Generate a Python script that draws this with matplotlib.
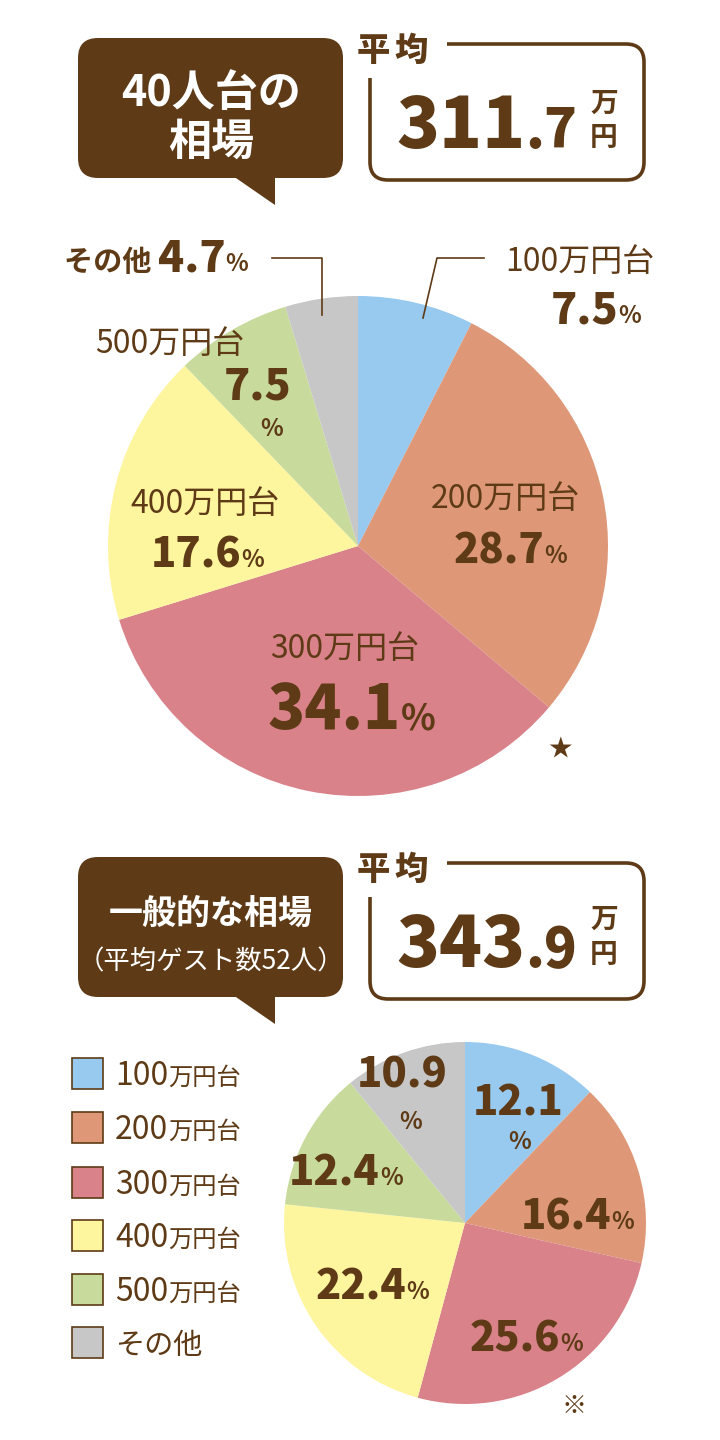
import matplotlib
matplotlib.use("Agg")
import matplotlib.pyplot as plt
from matplotlib.patches import FancyBboxPatch, Polygon, Rectangle

plt.rcParams['font.family'] = ['Noto Sans CJK JP', 'DejaVu Sans']

# ---------------- data ----------------
categories = ["100万円台", "200万円台", "300万円台", "400万円台", "500万円台", "その他"]
top_values = [7.5, 28.7, 34.1, 17.6, 7.5, 4.7]      # 40人台の相場 (%)
bottom_values = [12.1, 16.4, 25.6, 22.4, 12.4, 10.9]  # 一般的な相場 (%)
top_average = "311.7"
bottom_average = "343.9"
top_title = ["40人台の", "相場"]
bottom_title = ["一般的な相場", "（平均ゲスト数52人）"]
colors = ["#98C9EF", "#DE9878", "#D9828A", "#FEF59F", "#C8DB9C", "#C7C7C7"]
BROWN = "#5E3B16"

W, H = 720, 1440
fig = plt.figure(figsize=(W / 100, H / 100), dpi=100)
fig.patch.set_facecolor("white")


def pie_axes(cx, cy, r, values):
    ax = fig.add_axes([(cx - r) / W, 1 - (cy + r) / H, 2 * r / W, 2 * r / H])
    ax.pie(values, colors=colors, startangle=90, counterclock=False, radius=1,
           wedgeprops=dict(linewidth=0))
    ax.set_xlim(-1, 1)
    ax.set_ylim(-1, 1)
    ax.set_aspect("equal")
    ax.axis("off")
    return ax


pie_axes(358, 546, 250, top_values)
pie_axes(465, 1223, 181, bottom_values)

ov = fig.add_axes([0, 0, 1, 1])
ov.set_xlim(0, W)
ov.set_ylim(H, 0)
ov.axis("off")
ov.patch.set_alpha(0)

renderer = fig.canvas.get_renderer()


def run(x, y, pieces, ha="left", color=BROWN):
    """pieces: list of (text, size, weight)"""
    ts = []
    widths = []
    for s, size, weight in pieces:
        t = ov.text(0, y, s, fontsize=size, fontweight=weight, color=color,
                    va="baseline", ha="left")
        bb = t.get_window_extent(renderer)
        ts.append(t)
        widths.append(bb.width)
    total = sum(widths)
    if ha == "center":
        x0 = x - total / 2
    elif ha == "right":
        x0 = x - total
    else:
        x0 = x
    for t, w in zip(ts, widths):
        t.set_x(x0)
        x0 += w
    return ts


def header(y0, title_lines, title_sizes, title_weights, title_base, avg, avg_base, man_bases):
    # speech bubble
    ov.add_patch(FancyBboxPatch((78, y0), 265, 140, boxstyle="round,pad=0,rounding_size=20",
                                fc=BROWN, ec="none"))
    ov.add_patch(Polygon([(233, y0 + 138), (275, y0 + 138), (275, y0 + 167)],
                         closed=True, fc=BROWN, ec="none"))
    for line, s, wgt, b in zip(title_lines, title_sizes, title_weights, title_base):
        run(211, b, [(line, s, wgt)], ha="center", color="white")
    # average box
    ov.add_patch(FancyBboxPatch((370, y0 + 6), 274, 136, boxstyle="round,pad=0,rounding_size=18",
                                fc="none", ec=BROWN, lw=2.6))
    ov.add_patch(Rectangle((352, y0 - 12), 95, 52, fc="white", ec="none"))
    run(357, y0 + 23, [("平", 24, "heavy"), (" ", 12, "normal"), ("均", 24, "heavy")])
    main, dec = avg.split(".")
    run(396, avg_base, [(main, 51, "heavy"), ("." + dec, 39, "heavy")])
    run(604, man_bases[0], [("万", 20, "bold")], ha="center")
    run(604, man_bases[1], [("円", 20, "bold")], ha="center")


header(38, top_title, [31, 31], ["bold", "bold"], [106, 155], top_average, 148, (112, 146))
header(857, bottom_title, [24.5, 19], ["bold", "normal"], [924, 969], bottom_average, 967, (928, 963))

# ---------------- top pie labels ----------------
NUM, PCT = 30, 17
CAT = 23
ov.plot([272, 322, 322], [258, 258, 315], color=BROWN, lw=1.2)
ov.plot([484, 437, 423], [258, 258, 318], color=BROWN, lw=1.2)

run(64, 271, [("その他 ", 21, "bold"), (f"{top_values[5]}", 31, "heavy"), ("%", PCT, "bold")])
run(580, 271, [(categories[0], CAT, "normal")], ha="center")
run(641, 323, [(f"{top_values[0]}", 31, "heavy"), ("%", PCT, "bold")], ha="right")
run(170, 353, [(categories[4], CAT, "normal")], ha="center")
run(258, 399, [(f"{top_values[4]}", 31, "heavy")], ha="center")
run(272, 436, [("%", PCT, "bold")], ha="center")
run(505, 508, [(categories[1], CAT, "normal")], ha="center")
run(510, 563, [(f"{top_values[1]}", NUM, "heavy"), ("%", PCT, "bold")], ha="center")
run(205, 513, [(categories[3], CAT, "normal")], ha="center")
run(207, 567, [(f"{top_values[3]}", NUM, "heavy"), ("%", PCT, "bold")], ha="center")
run(345, 658, [(categories[2], CAT, "normal")], ha="center")
run(352, 729, [(f"{top_values[2]}", 44, "heavy"), ("%", 26, "bold")], ha="center")
run(560, 756, [("★", 17, "normal")], ha="center")

# ---------------- legend ----------------
leg_y = [1073, 1127, 1182, 1235, 1289, 1342]
for c, cat, yy in zip(colors, categories, leg_y):
    ov.add_patch(Rectangle((72, yy - 15), 31, 31, fc=c, ec=BROWN, lw=1.2))
    if cat.endswith("万円台"):
        run(115, yy + 12, [(cat[:3], 23, "normal"), (cat[3:], 17.5, "normal")])
    else:
        run(115, yy + 12, [(cat, 21, "normal")])

# ---------------- bottom pie labels ----------------
run(518, 1115, [(f"{bottom_values[0]}", NUM, "heavy")], ha="center")
run(520, 1149, [("%", PCT, "bold")], ha="center")
run(577, 1229, [(f"{bottom_values[1]}", NUM, "heavy"), ("%", PCT, "bold")], ha="center")
run(526, 1351, [(f"{bottom_values[2]}", NUM, "heavy"), ("%", PCT, "bold")], ha="center")
run(372, 1299, [(f"{bottom_values[3]}", NUM, "heavy"), ("%", PCT, "bold")], ha="center")
run(346, 1185, [(f"{bottom_values[4]}", NUM, "heavy"), ("%", PCT, "bold")], ha="center")
run(402, 1088, [(f"{bottom_values[5]}", NUM, "heavy")], ha="center")
run(411, 1129, [("%", PCT, "bold")], ha="center")
run(574, 1413, [("※", 18, "normal")], ha="center")

fig.savefig("out.png", dpi=100, facecolor="white")
